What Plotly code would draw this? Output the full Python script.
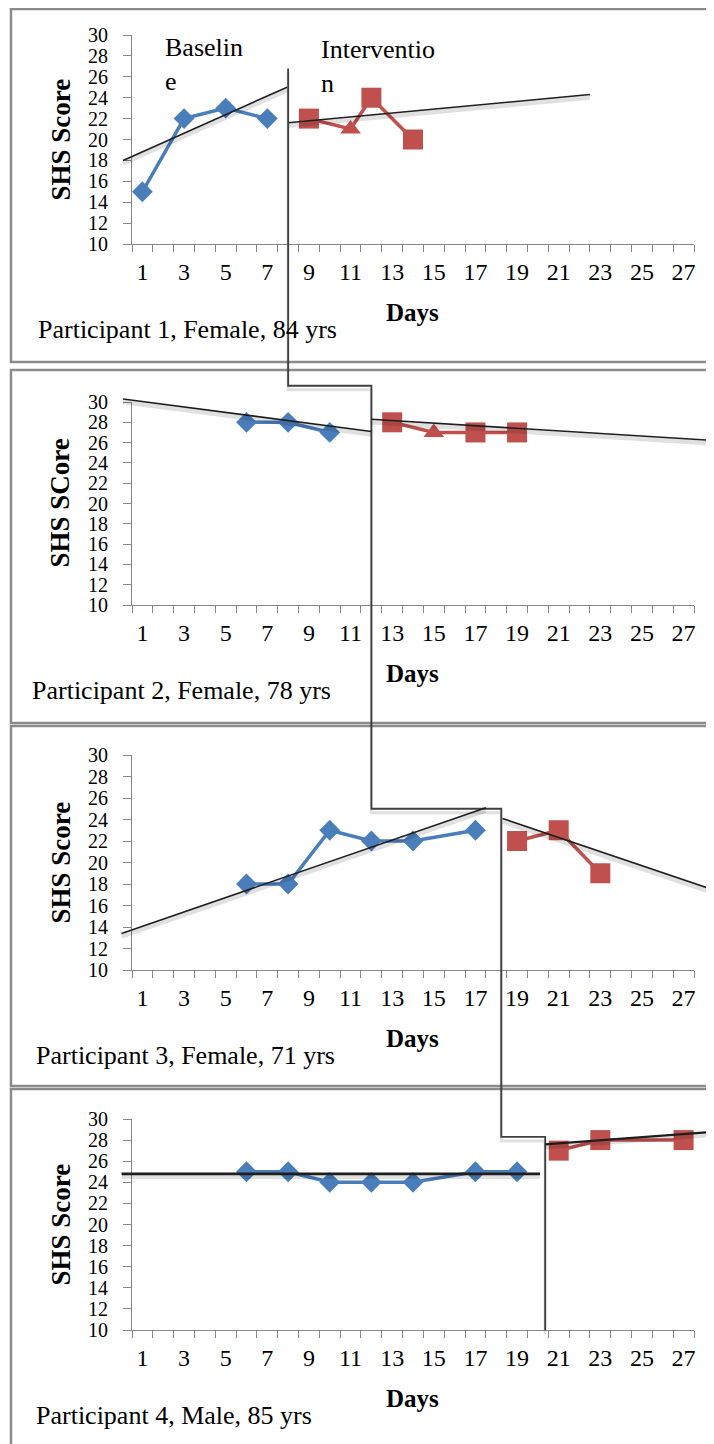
import plotly.graph_objects as go

# ---------------- data ----------------
participants = ["Participant 1, Female, 84 yrs", "Participant 2, Female, 78 yrs",
                "Participant 3, Female, 71 yrs", "Participant 4, Male, 85 yrs"]
y_titles = ["SHS Score", "SHS SCore", "SHS Score", "SHS Score"]

base_days = [[1, 3, 5, 7], [6, 8, 10], [6, 8, 10, 12, 14, 17], [6, 8, 10, 12, 14, 17, 19]]
base_vals = [[15, 22, 23, 22], [28, 28, 27], [18, 18, 23, 22, 22, 23], [25, 25, 24, 24, 24, 25, 25]]

int_days = [[9, 11, 12, 14], [13, 15, 17, 19], [19, 21, 23], [21, 23, 27]]
int_vals = [[22, 21, 24, 20], [28, 27, 27, 27], [22, 23, 19], [27, 28, 28]]
int_symbols = [["square", "triangle-up", "square", "square"],
               ["square", "triangle-up", "square", "square"],
               ["square", "square", "square"],
               ["square", "square", "square"]]

# hand-drawn trend lines: (start day, start value, end day, end value)
base_trend = [(0.07, 18.0, 7.95, 25.0), (0.07, 30.3, 12.0, 27.1),
              (0.0, 13.4, 17.5, 25.1), (0.0, 24.8, 20.1, 24.8)]
int_trend = [(8.0, 21.6, 22.5, 24.3), (12.0, 28.3, 28.5, 26.2),
             (18.3, 24.1, 28.5, 17.4), (20.35, 27.6, 28.5, 28.8)]

# multiple-baseline phase change line
phase_days = [8.0, 12.0, 18.24, 20.35]
phase_top = 26.8                  # panel 1 units
step_levels = [31.6, 25.0, 28.3]  # in units of panel 2, 3, 4
phase_bottom = 10                 # panel 4 units

tick_days = list(range(1, 28, 2))
y_ticks = list(range(10, 31, 2))

# ---------------- layout geometry (screen pixels) ----------------
W, H = 714, 1444
OFF = 8  # page body margin
XPX = (132, 694)
PANEL_PX = [(35, 244), (402, 605), (755, 970), (1119, 1330)]
BOX_PX = [(11, 9, 711, 362), (11, 370, 740, 723), (11, 726, 740, 1086), (11, 1089, 740, 1470)]
DAY_MIN, DAY_MAX = 0.5, 27.5
Y_MIN, Y_MAX = 10, 30

SERIF = "Liberation Serif, Times New Roman, serif"
BLUE = "#4A7EBB"
RED = "#C0504D"
AX = "#868686"


def fx(px):
    return (px - OFF) / W


def fy(px):
    return 1 - (px - OFF) / H


dpp = (DAY_MAX - DAY_MIN) / (XPX[1] - XPX[0])
full_x_range = [DAY_MIN - (XPX[0] - OFF) * dpp, DAY_MAX + (W + OFF - XPX[1]) * dpp]


def vpp(i):
    top, bot = PANEL_PX[i]
    return (Y_MAX - Y_MIN) / (bot - top)


def px_of(i, v):
    top, bot = PANEL_PX[i]
    return bot - (v - Y_MIN) / vpp(i)


def val_of(i, px):
    top, bot = PANEL_PX[i]
    return Y_MIN + (bot - px) * vpp(i)


fig = go.Figure()
layout = dict(width=W, height=H, margin=dict(l=0, r=0, t=0, b=0, autoexpand=False),
              paper_bgcolor="white", plot_bgcolor="rgba(0,0,0,0)",
              showlegend=False, shapes=[], annotations=[])

# overlay x axis (full width, same day scale)
layout["xaxis5"] = dict(domain=[0, 1], range=full_x_range, anchor="y5", visible=False,
                        fixedrange=True, automargin=False)

for i, (top, bot) in enumerate(PANEL_PX):
    n = i + 1
    layout[f"xaxis{n}"] = dict(
        domain=[fx(XPX[0]), fx(XPX[1])], range=[DAY_MIN, DAY_MAX], anchor=f"y{n}",
        tickmode="array", tickvals=tick_days, ticktext=[str(d) for d in tick_days],
        ticks="", showline=True, linecolor=AX, linewidth=1, showgrid=False, zeroline=False,
        tickfont=dict(family=SERIF, size=24, color="black"), ticklabelstandoff=6,
        minor=dict(ticks="outside", tickmode="array",
                   tickvals=[d + 0.5 for d in range(0, 28)], ticklen=7,
                   tickcolor=AX, showgrid=False),
        fixedrange=True, automargin=False)
    layout[f"yaxis{n}"] = dict(
        domain=[fy(bot), fy(top)], range=[Y_MIN, Y_MAX], anchor=f"x{n}",
        tickmode="array", tickvals=y_ticks, ticks="outside", ticklen=8, tickcolor=AX,
        showline=True, linecolor=AX, linewidth=1, showgrid=False, zeroline=False,
        tickfont=dict(family=SERIF, size=20, color="black"), ticklabelstandoff=11,
        fixedrange=True, automargin=False)
    # full-height overlay y axis using this panel's scale
    layout[f"yaxis{n + 4}"] = dict(domain=[0, 1], range=[val_of(i, H + OFF), val_of(i, OFF)],
                                   anchor="x5", visible=False, fixedrange=True, automargin=False)

    # panel box
    bx0, by0, bx1, by1 = BOX_PX[i]
    layout["shapes"].append(dict(type="rect", xref="paper", yref="paper",
                                 x0=fx(bx0), x1=fx(bx1), y0=fy(by1), y1=fy(by0),
                                 line=dict(color="#8c8c8c", width=2.5), layer="below"))

    # data series
    fig.add_trace(go.Scatter(x=base_days[i], y=base_vals[i], mode="lines+markers",
                             line=dict(color=BLUE, width=3.5),
                             marker=dict(symbol="diamond", size=16, color=BLUE, opacity=1,
                                         line=dict(width=0)),
                             xaxis=f"x{n}", yaxis=f"y{n}", cliponaxis=False))
    sizes = [20 if s == "square" else 18 for s in int_symbols[i]]
    fig.add_trace(go.Scatter(x=int_days[i], y=int_vals[i], mode="lines+markers",
                             line=dict(color=RED, width=3.5),
                             marker=dict(symbol=int_symbols[i], size=sizes, color=RED, opacity=1,
                                         line=dict(width=0)),
                             xaxis=f"x{n}", yaxis=f"y{n}", cliponaxis=False))

    # trend lines with soft shadow
    sh = 3 * vpp(i)
    widths = [1.6, 1.6] if i < 3 else [2.6, 2.2]
    for (d0, v0, d1, v1), w in zip([base_trend[i], int_trend[i]], widths):
        fig.add_trace(go.Scatter(x=[d0, d1], y=[v0 - sh, v1 - sh], mode="lines",
                                 line=dict(color="rgba(0,0,0,0.12)", width=4.5),
                                 xaxis="x5", yaxis=f"y{n + 4}", hoverinfo="skip"))
        fig.add_trace(go.Scatter(x=[d0, d1], y=[v0, v1], mode="lines",
                                 line=dict(color="#1e1e1e", width=w),
                                 xaxis="x5", yaxis=f"y{n + 4}"))

    # texts
    layout["annotations"].append(dict(text=f"<b>{y_titles[i]}</b>", xref="paper", yref="paper",
                                      x=fx(60), y=fy((top + bot) / 2), textangle=-90,
                                      xanchor="center", yanchor="middle",
                                      showarrow=False, font=dict(family=SERIF, size=27, color="black")))
    layout["annotations"].append(dict(text="<b>Days</b>", xref="paper", yref="paper",
                                      x=fx(412), y=fy(bot + 68), xanchor="center", yanchor="middle",
                                      showarrow=False, font=dict(family=SERIF, size=25, color="black")))
    lx = [36, 30, 34, 34][i]
    layout["annotations"].append(dict(text=participants[i], xref="paper", yref="paper",
                                      x=fx(lx), y=fy(bot + 85), xanchor="left", yanchor="middle",
                                      showarrow=False, font=dict(family=SERIF, size=26, color="black")))

# phase labels (panel 1)
layout["annotations"].append(dict(text="Baselin<br>e", xref="paper", yref="paper",
                                  x=fx(163), y=fy(31), xanchor="left", yanchor="top", align="left",
                                  showarrow=False, font=dict(family=SERIF, size=26, color="black")))
layout["annotations"].append(dict(text="Interventio<br>n", xref="paper", yref="paper",
                                  x=fx(319), y=fy(33), xanchor="left", yanchor="top", align="left",
                                  showarrow=False, font=dict(family=SERIF, size=26, color="black")))

# phase change step line, expressed in panel 1 units on the overlay axes
levels_px = [px_of(0, phase_top)] + [px_of(k + 1, step_levels[k]) for k in range(3)] + [px_of(3, phase_bottom)]
sx, sy = [], []
for k, d in enumerate(phase_days):
    sx += [d, d]
    sy += [val_of(0, levels_px[k]), val_of(0, levels_px[k + 1])]
shadow = 4 * vpp(0)
fig.add_trace(go.Scatter(x=sx, y=[v - shadow for v in sy], mode="lines",
                         line=dict(color="rgba(0,0,0,0.12)", width=3),
                         xaxis="x5", yaxis="y5", hoverinfo="skip"))
fig.add_trace(go.Scatter(x=sx, y=sy, mode="lines", line=dict(color="#404040", width=1.8),
                         xaxis="x5", yaxis="y5"))

fig.update_layout(**layout)
fig.write_html("out.html")
